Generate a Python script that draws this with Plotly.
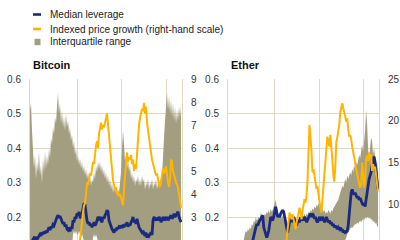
import pandas as pd
import plotly.graph_objects as go

# ---------------- data ----------------
N = 152
dates = pd.date_range("2018-12-13", "2022-04-29", periods=N)

btc_iqr_high = [
    0.51, 0.53, 0.45, 0.37, 0.34, 0.38, 0.31, 0.36, 0.33, 0.39,
    0.32, 0.35, 0.30, 0.37, 0.33, 0.39, 0.34, 0.38, 0.35, 0.40,
    0.37, 0.43, 0.41, 0.46, 0.44, 0.49, 0.47, 0.52, 0.56, 0.50,
    0.53, 0.47, 0.51, 0.46, 0.49, 0.45, 0.50, 0.46, 0.48, 0.44,
    0.46, 0.42, 0.44, 0.40, 0.42, 0.38, 0.40, 0.36, 0.38, 0.35,
    0.37, 0.34, 0.36, 0.33, 0.35, 0.32, 0.34, 0.31, 0.33, 0.30,
    0.32, 0.29, 0.31, 0.30, 0.33, 0.31, 0.35, 0.33, 0.36, 0.34,
    0.36, 0.33, 0.35, 0.32, 0.34, 0.31, 0.33, 0.30, 0.32, 0.29,
    0.31, 0.28, 0.30, 0.27, 0.29, 0.27, 0.29, 0.26, 0.28, 0.27,
    0.30, 0.33, 0.40, 0.45, 0.41, 0.36, 0.38, 0.34, 0.37, 0.33,
    0.35, 0.31, 0.33, 0.30, 0.32, 0.29, 0.31, 0.30, 0.32, 0.29,
    0.31, 0.29, 0.32, 0.30, 0.31, 0.28, 0.30, 0.29, 0.31, 0.28,
    0.30, 0.29, 0.31, 0.28, 0.30, 0.29, 0.31, 0.28, 0.30, 0.29,
    0.31, 0.29, 0.32, 0.36, 0.43, 0.48, 0.52, 0.56, 0.51, 0.55,
    0.50, 0.54, 0.49, 0.53, 0.48, 0.52, 0.47, 0.51, 0.48, 0.52,
    0.49, 0.52,
]
btc_iqr_low = [
    0.11, 0.11, 0.11, 0.11, 0.11, 0.11, 0.11, 0.11, 0.11, 0.11,
    0.11, 0.11, 0.11, 0.11, 0.11, 0.11, 0.11, 0.11, 0.11, 0.11,
    0.11, 0.11, 0.11, 0.11, 0.11, 0.11, 0.11, 0.11, 0.11, 0.11,
    0.11, 0.11, 0.11, 0.11, 0.11, 0.11, 0.11, 0.11, 0.11, 0.11,
    0.11, 0.11, 0.11, 0.15, 0.16, 0.15, 0.16, 0.15, 0.15, 0.16,
    0.15, 0.14, 0.15, 0.14, 0.13, 0.12, 0.13, 0.12, 0.13, 0.12,
    0.12, 0.13, 0.12, 0.14, 0.15, 0.14, 0.15, 0.14, 0.13, 0.12,
    0.12, 0.12, 0.12, 0.12, 0.12, 0.12, 0.12, 0.12, 0.12, 0.12,
    0.12, 0.12, 0.12, 0.12, 0.12, 0.12, 0.12, 0.12, 0.12, 0.12,
    0.12, 0.12, 0.12, 0.12, 0.12, 0.12, 0.12, 0.12, 0.12, 0.12,
    0.12, 0.12, 0.12, 0.12, 0.12, 0.12, 0.12, 0.12, 0.12, 0.12,
    0.12, 0.12, 0.12, 0.12, 0.12, 0.12, 0.12, 0.12, 0.12, 0.12,
    0.12, 0.12, 0.12, 0.12, 0.12, 0.12, 0.12, 0.12, 0.12, 0.12,
    0.12, 0.12, 0.12, 0.12, 0.12, 0.12, 0.12, 0.12, 0.12, 0.12,
    0.12, 0.12, 0.12, 0.12, 0.12, 0.12, 0.12, 0.12, 0.12, 0.12,
    0.12, 0.12,
]
btc_median = [
    0.120, 0.125, 0.130, 0.135, 0.140, 0.138, 0.142, 0.135, 0.140, 0.145,
    0.150, 0.145, 0.155, 0.150, 0.158, 0.152, 0.160, 0.155, 0.165, 0.170,
    0.162, 0.172, 0.168, 0.178, 0.175, 0.185, 0.190, 0.200, 0.205, 0.198,
    0.203, 0.195, 0.190, 0.180, 0.185, 0.172, 0.178, 0.165, 0.162, 0.170,
    0.158, 0.172, 0.165, 0.190, 0.185, 0.200, 0.195, 0.210, 0.205, 0.215,
    0.200, 0.197, 0.210, 0.225, 0.240, 0.235, 0.200, 0.190, 0.180, 0.185,
    0.175, 0.180, 0.170, 0.178, 0.185, 0.175, 0.180, 0.190, 0.200, 0.195,
    0.200, 0.190, 0.185, 0.200, 0.195, 0.205, 0.210, 0.220, 0.215, 0.190,
    0.180, 0.170, 0.165, 0.160, 0.155, 0.165, 0.160, 0.170, 0.165, 0.172,
    0.170, 0.175, 0.168, 0.178, 0.170, 0.180, 0.175, 0.185, 0.172, 0.180,
    0.175, 0.185, 0.190, 0.200, 0.185, 0.190, 0.180, 0.195, 0.175, 0.170,
    0.165, 0.160, 0.155, 0.160, 0.150, 0.145, 0.155, 0.140, 0.150, 0.145,
    0.150, 0.155, 0.148, 0.190, 0.200, 0.195, 0.190, 0.198, 0.190, 0.200,
    0.195, 0.185, 0.192, 0.200, 0.190, 0.195, 0.200, 0.190, 0.200, 0.195,
    0.200, 0.205, 0.195, 0.200, 0.210, 0.200, 0.205, 0.210, 0.215, 0.200,
    0.190, 0.185,
]
btc_price = [None] * 48 + [
    1.6, 1.8,
    2.0, 2.4, 2.9, 3.2, 3.5, 3.6, 4.0, 4.5, 4.4, 4.6,
    4.9, 4.8, 5.2, 5.4, 5.3, 5.8, 6.1, 6.3, 6.0, 6.6,
    6.9, 7.1, 6.8, 7.0, 6.9, 7.2, 7.3, 7.5, 7.0, 6.6,
    6.2, 5.6, 4.9, 4.6, 4.4, 4.2, 4.3, 4.0, 4.1, 3.9,
    4.0, 3.8, 3.6, 3.5, 4.2, 4.9, 5.5, 5.8, 5.4, 5.6,
    5.5, 5.7, 5.3, 5.5, 5.0, 5.3, 5.1, 5.9, 6.5, 7.0,
    7.3, 7.5, 7.7, 7.6, 7.96, 7.5, 7.8, 7.1, 6.7, 6.3,
    6.0, 5.8, 5.5, 5.3, 5.2, 5.0, 4.8, 4.9, 4.5, 4.4,
    4.3, 4.6, 4.9, 5.1, 4.9, 5.0, 5.2, 4.7, 4.5, 4.3,
    4.6, 5.5, 5.4, 5.0, 4.8, 4.6, 4.5, 4.4, 4.3, 4.0,
    3.6, 3.4,
]

eth_iqr_high = [None] * 15 + [
    0.12, 0.14, 0.15, 0.16, 0.155, 0.165, 0.16,
    0.17, 0.165, 0.18, 0.175, 0.19, 0.185, 0.20, 0.19, 0.195, 0.20,
    0.19, 0.215, 0.20, 0.205, 0.195, 0.21, 0.205, 0.215, 0.21, 0.22,
    0.21, 0.225, 0.215, 0.22, 0.23, 0.245, 0.25, 0.23, 0.21, 0.205,
    0.20, 0.21, 0.195, 0.205, 0.19, 0.20, 0.185, 0.195, 0.18, 0.19,
    0.185, 0.195, 0.19, 0.20, 0.19, 0.195, 0.20, 0.19, 0.20, 0.195,
    0.19, 0.20, 0.195, 0.205, 0.20, 0.21, 0.20, 0.21, 0.205, 0.215,
    0.21, 0.22, 0.215, 0.225, 0.22, 0.23, 0.225, 0.235, 0.23, 0.24,
    0.235, 0.23, 0.22, 0.225, 0.215, 0.22, 0.21, 0.215, 0.21, 0.22,
    0.215, 0.21, 0.22, 0.215, 0.225, 0.23, 0.235, 0.24, 0.245, 0.25,
    0.26, 0.27, 0.28, 0.29, 0.285, 0.30, 0.31, 0.30, 0.32, 0.31,
    0.32, 0.33, 0.32, 0.34, 0.33, 0.35, 0.34, 0.36, 0.35, 0.37,
    0.38, 0.37, 0.40, 0.41, 0.39, 0.42, 0.45, 0.51, 0.47, 0.40,
    0.36, 0.40, 0.43, 0.42, 0.38, 0.40, 0.37, 0.35, 0.36, 0.33,
]
eth_iqr_low = [None] * 15 + [
    0.12, 0.12, 0.12, 0.12, 0.12, 0.12, 0.12,
    0.12, 0.12, 0.12, 0.12, 0.12, 0.12, 0.12, 0.12, 0.12, 0.12,
    0.12, 0.12, 0.12, 0.12, 0.12, 0.12, 0.12, 0.12, 0.12, 0.12,
    0.12, 0.12, 0.12, 0.12, 0.12, 0.12, 0.12, 0.12, 0.12, 0.12,
    0.12, 0.12, 0.12, 0.12, 0.12, 0.12, 0.12, 0.12, 0.12, 0.12,
    0.12, 0.12, 0.12, 0.12, 0.12, 0.12, 0.12, 0.12, 0.12, 0.12,
    0.12, 0.12, 0.12, 0.12, 0.12, 0.12, 0.12, 0.12, 0.12, 0.12,
    0.12, 0.12, 0.12, 0.12, 0.12, 0.12, 0.12, 0.12, 0.12, 0.12,
    0.12, 0.12, 0.12, 0.12, 0.12, 0.12, 0.12, 0.12, 0.12, 0.12,
    0.12, 0.12, 0.12, 0.12, 0.12, 0.12, 0.12, 0.12, 0.12, 0.12,
    0.12, 0.12, 0.12, 0.12, 0.12, 0.12, 0.13, 0.14, 0.15, 0.155,
    0.16, 0.165, 0.17, 0.168, 0.172, 0.175, 0.18, 0.178, 0.185, 0.18,
    0.185, 0.19, 0.185, 0.19, 0.195, 0.19, 0.20, 0.195, 0.20, 0.20,
    0.195, 0.20, 0.19, 0.195, 0.185, 0.19, 0.18, 0.185, 0.175, 0.17,
]
eth_median = [None] * 24 + [
    0.12, 0.135, 0.14, 0.16, 0.17, 0.18, 0.175, 0.185,
    0.19, 0.195, 0.20, 0.205, 0.17, 0.16, 0.15, 0.14, 0.15, 0.16,
    0.18, 0.20, 0.195, 0.19, 0.20, 0.22, 0.23, 0.215, 0.20, 0.205,
    0.20, 0.21, 0.215, 0.22, 0.215, 0.20, 0.18, 0.16, 0.155, 0.17,
    0.19, 0.20, 0.195, 0.185, 0.20, 0.19, 0.18, 0.175, 0.185, 0.19,
    0.185, 0.20, 0.19, 0.195, 0.19, 0.20, 0.195, 0.185, 0.19, 0.20,
    0.205, 0.21, 0.20, 0.21, 0.205, 0.195, 0.20, 0.19, 0.185, 0.19,
    0.20, 0.195, 0.19, 0.20, 0.195, 0.185, 0.19, 0.20, 0.19, 0.185,
    0.19, 0.18, 0.185, 0.175, 0.18, 0.17, 0.175, 0.17, 0.165, 0.17,
    0.165, 0.17, 0.16, 0.165, 0.155, 0.16, 0.155, 0.157, 0.16, 0.175,
    0.20, 0.24, 0.27, 0.28, 0.27, 0.265, 0.27, 0.26, 0.255, 0.26,
    0.25, 0.255, 0.245, 0.24, 0.235, 0.24, 0.23, 0.25, 0.28, 0.30,
    0.31, 0.32, 0.33, 0.35, 0.37, 0.375, 0.36, 0.33, 0.30, 0.28,
]
eth_price = [None] * 57 + [
    4.5, 5.0, 5.8, 7.0, 8.5,
    9.0, 8.5, 8.2, 8.8, 8.0, 7.5, 7.0, 7.8, 8.5, 9.0,
    9.6, 9.0, 8.2, 9.2, 10.0, 10.6, 10.2, 11.0, 12.7, 16.0,
    19.5, 18.0, 16.5, 13.8, 14.2, 13.5, 12.8, 11.8, 12.2, 11.0,
    9.8, 9.5, 9.0, 10.5, 12.1, 13.5, 14.5, 15.6, 18.1, 17.5,
    16.9, 18.3, 17.2, 15.4, 13.5, 12.7, 14.5, 17.4, 18.0, 18.6,
    19.5, 21.0, 21.7, 22.1, 21.5, 21.1, 20.5, 19.9, 20.3, 19.0,
    18.1, 18.3, 17.8, 16.9, 16.2, 15.7, 15.0, 14.2, 13.3, 13.0,
    12.5, 12.0, 12.3, 15.0, 13.5, 12.0, 13.0, 15.4, 15.8, 15.2,
    16.2, 15.6, 16.0, 14.0, 14.8, 14.2, 14.5, 13.5, 12.0, 11.5,
]

year_lines = ["2020-01-01", "2021-01-01", "2022-01-01"]
x_start, x_end = "2018-12-13", "2022-05-07"

# ---------------- styles ----------------
BLUE = "#1b2a7e"
ORANGE = "#ffb400"
TAN = "#a39e80"
GRID = "#dedabf"
TXT = "#333333"
FONT = "Liberation Sans, Arial, sans-serif"


def fit(vals):
    vals = list(vals)[:N]
    return vals + [None] * (N - len(vals))


def band(high, low):
    high, low = fit(high), fit(low)
    hx = [d for d, v in zip(dates, high) if v is not None]
    hy = [v for v in high if v is not None]
    lx = [d for d, v in zip(dates, low) if v is not None]
    ly = [v for v in low if v is not None]
    return hx + lx[::-1], hy + ly[::-1]


fig = go.Figure()

panels = [
    ("x", "y", "y3", btc_iqr_high, btc_iqr_low, btc_median, btc_price),
    ("x2", "y2", "y4", eth_iqr_high, eth_iqr_low, eth_median, eth_price),
]
for xa, ya, ya_r, hi, lo, med, price in panels:
    bx, by = band(hi, lo)
    fig.add_trace(go.Scatter(x=bx, y=by, xaxis=xa, yaxis=ya, fill="toself",
                             fillcolor=TAN, line=dict(width=0), mode="lines",
                             hoverinfo="skip", showlegend=False))
    fig.add_trace(go.Scatter(x=dates, y=fit(med), xaxis=xa, yaxis=ya, mode="lines",
                             line=dict(color=BLUE, width=2.8), showlegend=False))
    fig.add_trace(go.Scatter(x=dates, y=fit(price), xaxis=xa, yaxis=ya_r, mode="lines",
                             line=dict(color=ORANGE, width=2), showlegend=False))

xcommon = dict(type="date", range=[x_start, x_end], tickvals=year_lines,
               showticklabels=False, showgrid=True, gridcolor=GRID, gridwidth=1,
               zeroline=False, showline=False, ticks="")
ycommon = dict(range=[0.6 - 161 / 345, 0.6], tickvals=[0.2, 0.3, 0.4, 0.5, 0.6],
               tickformat=".1f", showgrid=True, gridcolor=GRID, gridwidth=1,
               zeroline=False, showline=True, mirror=True, linecolor=GRID,
               linewidth=1, ticks="", ticklabelstandoff=6,
               tickfont=dict(family=FONT, size=10, color=TXT))
rcommon = dict(side="right", showgrid=False, zeroline=False, showline=False,
               ticks="", ticklabelstandoff=8,
               tickfont=dict(family=FONT, size=10, color=TXT))

fig.update_layout(
    width=400, height=240, autosize=False,
    margin=dict(l=0, r=0, t=79, b=0, pad=0),
    paper_bgcolor="white", plot_bgcolor="white",
    showlegend=False,
    xaxis=dict(domain=[30 / 400, 182 / 400], anchor="y", **xcommon),
    xaxis2=dict(domain=[228 / 400, 379 / 400], anchor="y2", **xcommon),
    yaxis=dict(domain=[0, 1], anchor="x", **ycommon),
    yaxis2=dict(domain=[0, 1], anchor="x2", **ycommon),
    yaxis3=dict(overlaying="y", anchor="x", range=[2, 9], dtick=1, tick0=0, **rcommon),
    yaxis4=dict(overlaying="y2", anchor="x2", range=[25 - 161 / 8.35, 25], dtick=5, tick0=0, **rcommon),
)


def py(pix):
    return (240 - pix) / 161


# titles
for label, px in [("Bitcoin", 31), ("Ether", 229)]:
    fig.add_annotation(text="<b>%s</b>" % label, x=px / 400, y=py(64.5), xref="paper", yref="paper",
                       xanchor="left", yanchor="middle", showarrow=False,
                       font=dict(family=FONT, size=11, color="#111111"))

# legend
legend_items = [
    ("Median leverage", BLUE, "line", 14.5),
    ("Indexed price growth (right-hand scale)", ORANGE, "line", 29),
    ("Interquartile range", TAN, "box", 42),
]
for text, color, kind, ypix in legend_items:
    if kind == "line":
        fig.add_shape(type="rect", xref="paper", yref="paper", x0=33 / 400, x1=41 / 400,
                      y0=py(ypix + 1.3), y1=py(ypix - 1.3), fillcolor=color, line=dict(width=0))
    else:
        fig.add_shape(type="rect", xref="paper", yref="paper", x0=34.5 / 400, x1=40.5 / 400,
                      y0=py(ypix + 3.2), y1=py(ypix - 3.2), fillcolor=color, line=dict(width=0))
    fig.add_annotation(text=text, x=48 / 400, y=py(ypix), xref="paper", yref="paper",
                       xanchor="left", yanchor="middle", showarrow=False,
                       font=dict(family=FONT, size=10, color="#222222"))

fig.write_html("out.html")
